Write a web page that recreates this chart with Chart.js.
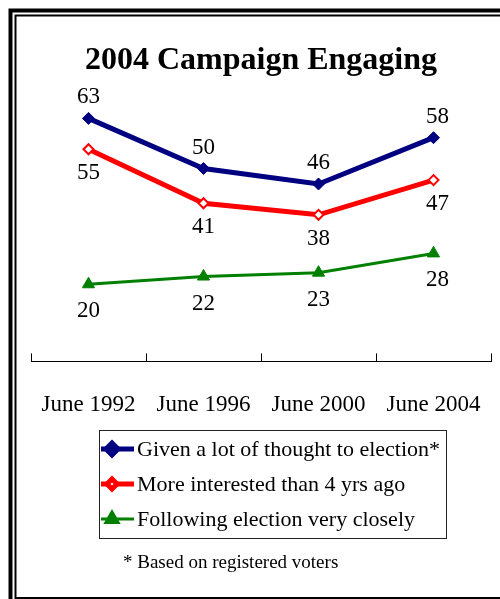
<!DOCTYPE html>
<html>
<head>
<meta charset="utf-8">
<script src="https://cdn.jsdelivr.net/npm/chart.js@4/dist/chart.umd.min.js"></script>
<style>
html,body{margin:0;padding:0;background:#fff;overflow:hidden;}
canvas{display:block;}
</style>
</head>
<body>
<canvas id="c" width="500" height="599"></canvas>
<script>
const categories = ['June 1992', 'June 1996', 'June 2000', 'June 2004'];
const thoughtValues = [63, 50, 46, 58];
const interestedValues = [55, 41, 38, 47];
const followingValues = [20, 22, 23, 28];
const seriesNames = ['Given a lot of thought to election*', 'More interested than 4 yrs ago', 'Following election very closely'];
const chartTitle = '2004 Campaign Engaging';
const footnote = '* Based on registered voters';
const labelOffsets = [-21, 24, 27];

const SERIF = '"Liberation Serif", "Times New Roman", serif';

const framePlugin = {
  id: 'frame',
  beforeDraw(chart) {
    const ctx = chart.ctx;
    ctx.save();
    ctx.fillStyle = '#fff';
    ctx.fillRect(0, 0, chart.width, chart.height);
    ctx.strokeStyle = '#000';
    ctx.lineWidth = 4;
    ctx.strokeRect(10.5, 10.5, 700, 700);
    ctx.lineWidth = 2;
    ctx.strokeRect(15.5, 15.5, 700, 582.5);
    ctx.restore();
  }
};

const tickMarkPlugin = {
  id: 'tickMarks',
  afterDraw(chart) {
    const x = chart.scales.x;
    const ctx = chart.ctx;
    const yb = chart.chartArea.bottom;
    ctx.save();
    ctx.strokeStyle = '#000';
    ctx.lineWidth = 1;
    ctx.beginPath();
    for (let i = 0; i <= categories.length; i++) {
      const px = Math.round(x.getPixelForValue(i - 0.5)) + 0.5;
      ctx.moveTo(px, yb);
      ctx.lineTo(px, yb - 8);
    }
    ctx.stroke();
    ctx.restore();
  }
};

const dataLabelPlugin = {
  id: 'dataLabels',
  afterDatasetsDraw(chart) {
    const ctx = chart.ctx;
    ctx.save();
    ctx.font = '23px ' + SERIF;
    ctx.fillStyle = '#000';
    ctx.textAlign = 'center';
    ctx.textBaseline = 'middle';
    chart.data.datasets.forEach((ds, di) => {
      const meta = chart.getDatasetMeta(di);
      meta.data.forEach((pt, i) => {
        ctx.fillText(String(ds.data[i]), pt.x + (i === 3 ? 4 : 0), pt.y + labelOffsets[di]);
      });
    });
    ctx.restore();
  }
};

const legendBoxPlugin = {
  id: 'legendBox',
  afterDraw(chart) {
    const ctx = chart.ctx;
    ctx.save();
    ctx.strokeStyle = '#222';
    ctx.lineWidth = 1;
    ctx.strokeRect(99.5, 430.5, 347, 108);
    const rows = [449, 484, 519];
    ctx.font = '22px ' + SERIF;
    ctx.textAlign = 'left';
    ctx.textBaseline = 'middle';
    chart.data.datasets.forEach((ds, di) => {
      const y = rows[di];
      ctx.strokeStyle = ds.borderColor;
      ctx.lineWidth = ds.borderWidth;
      ctx.beginPath();
      ctx.moveTo(101, y);
      ctx.lineTo(134, y);
      ctx.stroke();
      ctx.fillStyle = ds.pointBackgroundColor;
      ctx.strokeStyle = ds.pointBorderColor;
      Chart.helpers.drawPoint(ctx, {
        pointStyle: ds.pointStyle,
        radius: ds.pointRadius,
        rotation: 0,
        borderWidth: ds.pointBorderWidth
      }, 112, y);
      ctx.fillStyle = '#000';
      ctx.fillText(ds.label, 137, y + 1);
    });
    ctx.font = '19px ' + SERIF;
    ctx.fillText(footnote, 123, 563);
    ctx.restore();
  }
};

new Chart(document.getElementById('c'), {
  type: 'line',
  data: {
    labels: categories,
    datasets: [
      {
        label: seriesNames[0],
        data: thoughtValues,
        borderColor: '#000080',
        borderWidth: 5,
        pointStyle: 'rectRot',
        pointRadius: 6,
        pointBackgroundColor: '#000080',
        pointBorderColor: '#000080',
        pointBorderWidth: 1,
        tension: 0
      },
      {
        label: seriesNames[1],
        data: interestedValues,
        borderColor: '#ff0000',
        borderWidth: 5,
        pointStyle: 'rectRot',
        pointRadius: 5,
        pointBackgroundColor: '#ffffff',
        pointBorderColor: '#ff0000',
        pointBorderWidth: 2,
        tension: 0
      },
      {
        label: seriesNames[2],
        data: followingValues,
        borderColor: '#008000',
        borderWidth: 3,
        pointStyle: 'triangle',
        pointRadius: 7,
        pointBackgroundColor: '#008000',
        pointBorderColor: '#008000',
        pointBorderWidth: 1,
        tension: 0
      }
    ]
  },
  options: {
    responsive: false,
    devicePixelRatio: 1,
    animation: false,
    layout: { padding: { left: 31, right: 9, top: 20, bottom: 180 } },
    scales: {
      x: {
        offset: true,
        grid: {
          display: true,
          drawOnChartArea: false,
          drawTicks: true,
          tickLength: 30,
          tickColor: 'rgba(0,0,0,0)'
        },
        border: { display: true, color: '#000', width: 1 },
        ticks: {
          color: '#000',
          font: { family: SERIF, size: 23 },
          padding: 0,
          maxRotation: 0,
          autoSkip: false
        }
      },
      y: { display: false, min: 0, max: 70 }
    },
    plugins: {
      legend: { display: false },
      tooltip: { enabled: false },
      title: {
        display: true,
        text: chartTitle,
        color: '#000',
        font: { family: SERIF, size: 32, weight: 'bold' },
        padding: { top: 22, bottom: 11 }
      }
    }
  },
  plugins: [framePlugin, tickMarkPlugin, dataLabelPlugin, legendBoxPlugin]
});
</script>
</body>
</html>
